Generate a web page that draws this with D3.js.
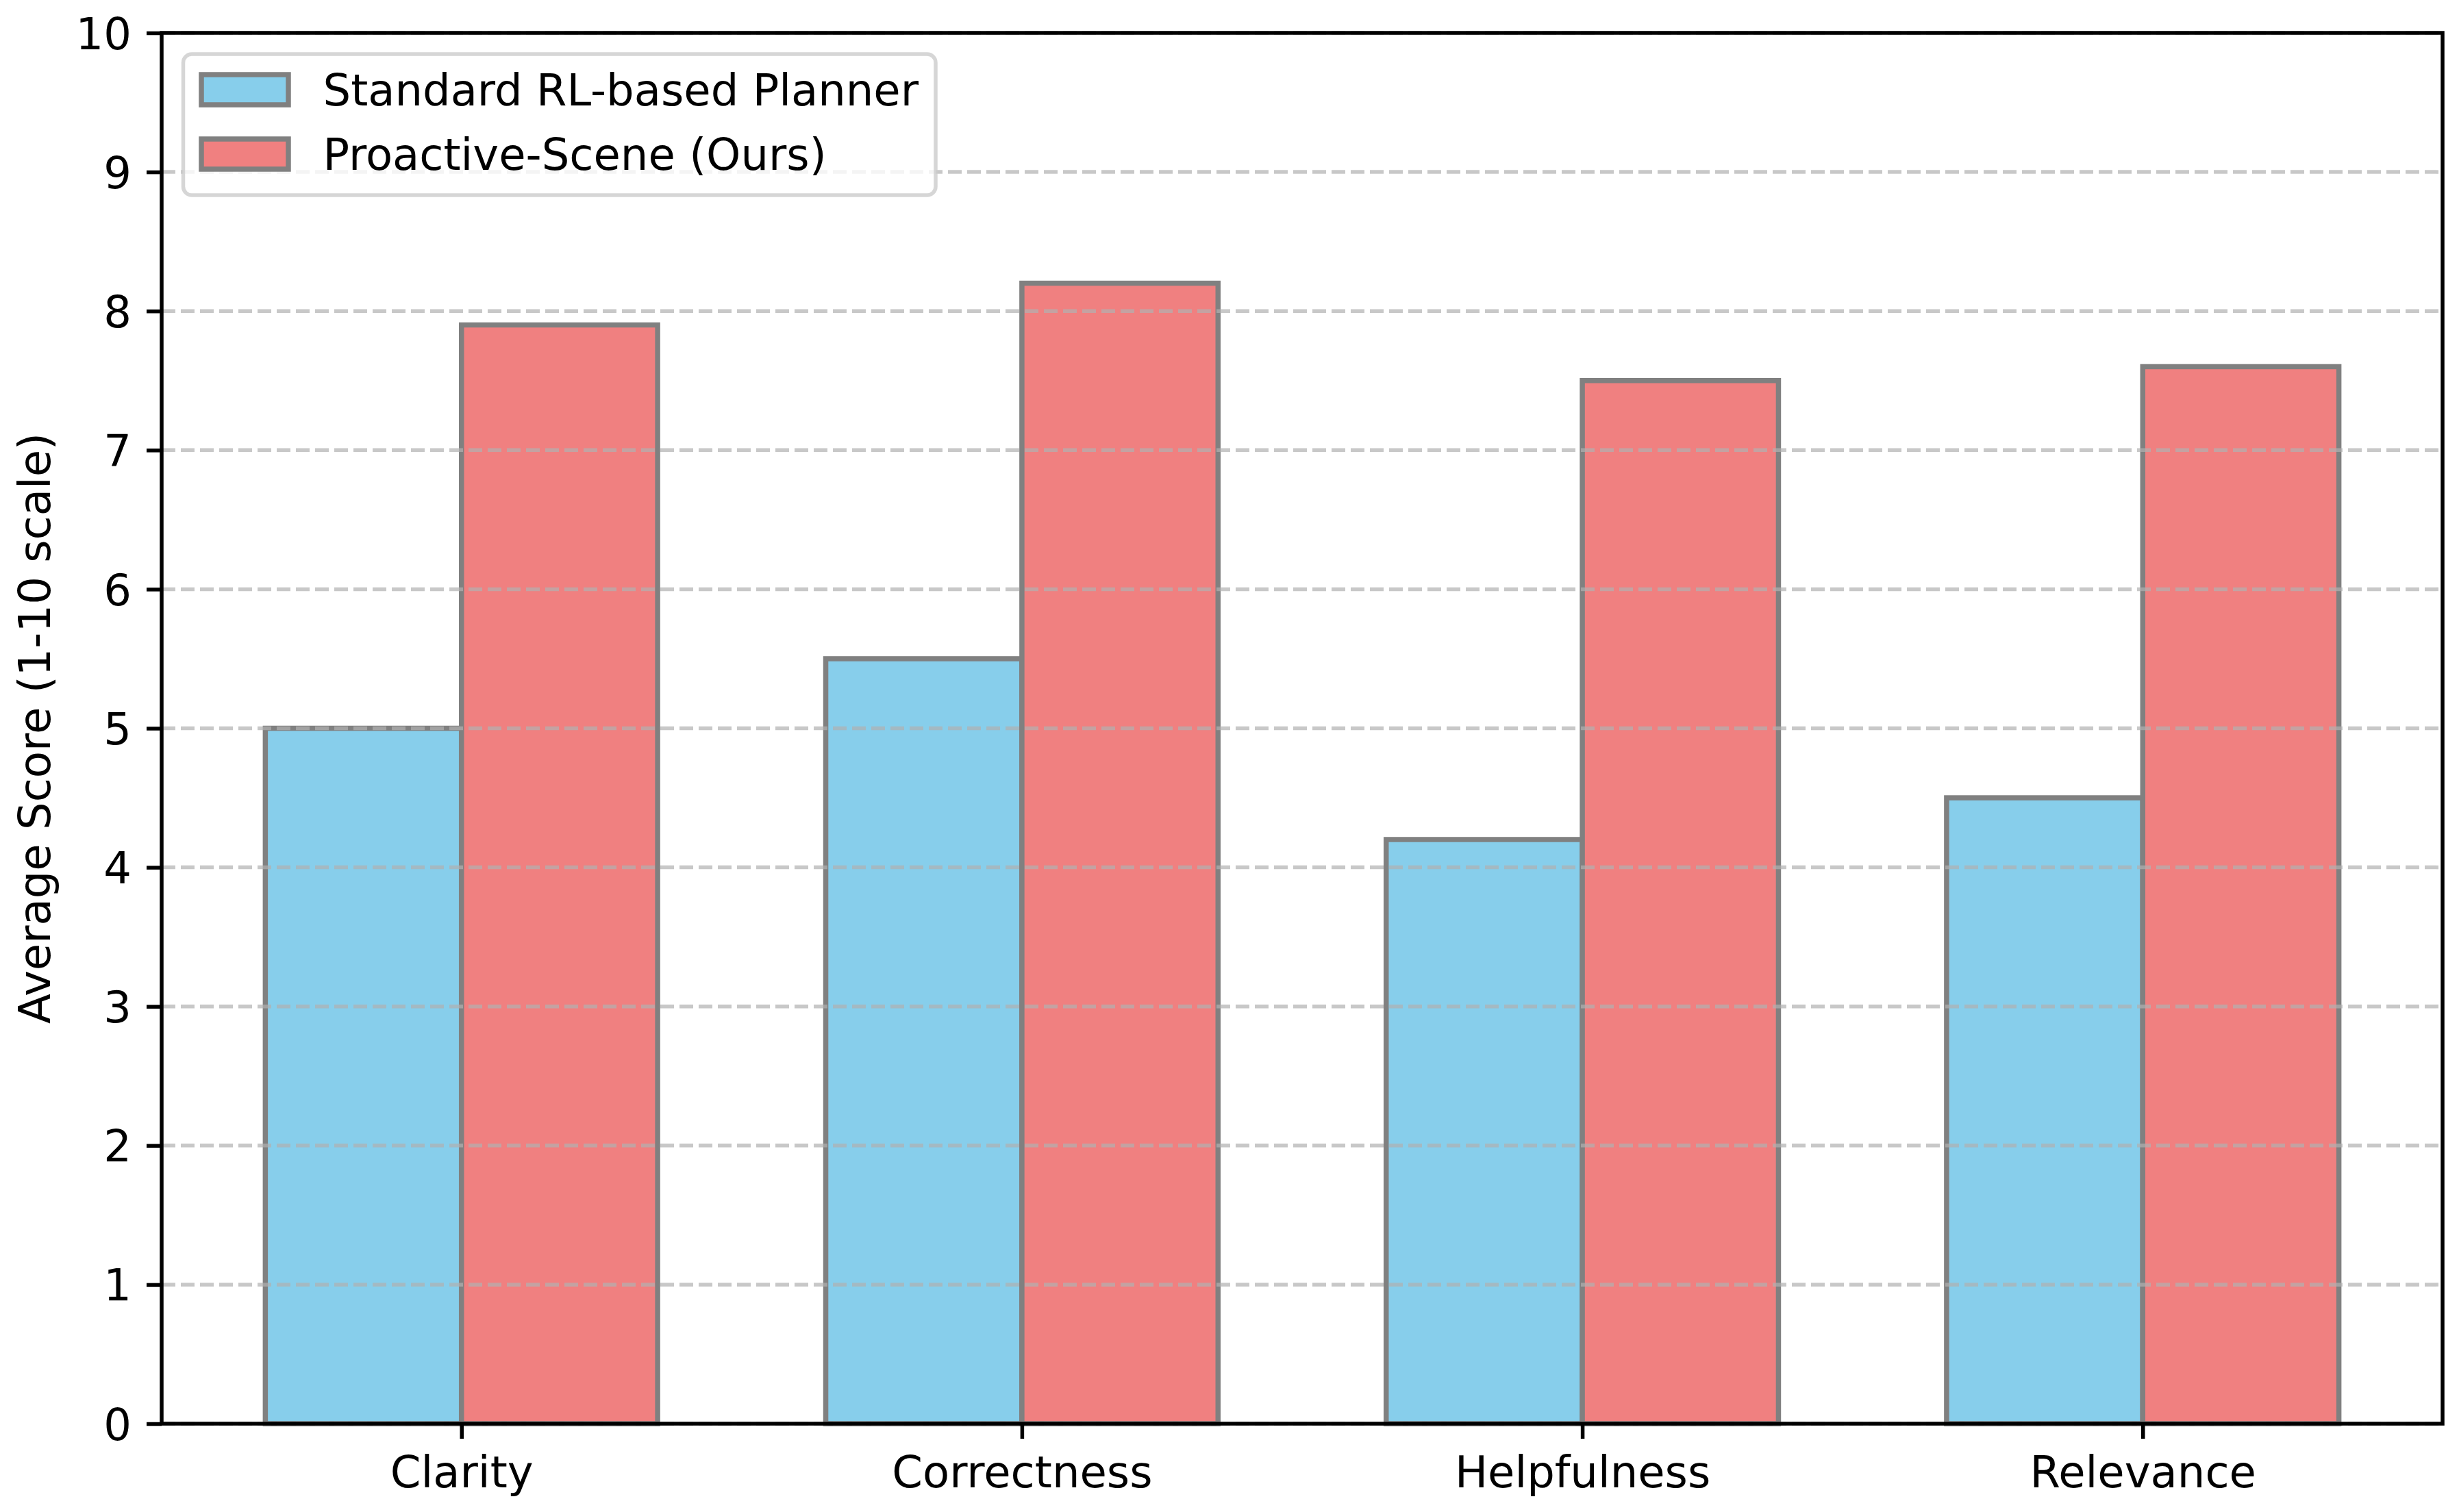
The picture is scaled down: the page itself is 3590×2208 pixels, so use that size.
<!DOCTYPE html>
<html lang="en">

<head>
  <meta charset="UTF-8">
  <title>Average Score by Criterion</title>
  <style>
    body {
      margin: 0;
      background: #fff;
    }

    svg {
      display: block;
      font-family: "DejaVu Sans", sans-serif;
    }

    .grid line {
      stroke: #b0b0b0;
      stroke-opacity: 0.7;
      stroke-width: 5.5;
      stroke-dasharray: 20 8;
    }

    .bar {
      stroke: #808080;
      stroke-width: 7.5;
    }

    .axis text {
      font-family: "DejaVu Sans", sans-serif;
      font-size: 64px;
      fill: #000;
    }

    .axis line {
      stroke: #000;
      stroke-width: 5.5;
    }
  </style>
</head>

<body>
  <svg></svg>
</body>
<script src="https://d3js.org/d3.v7.min.js"></script>
<script>

  let categories = ['Clarity', 'Correctness', 'Helpfulness', 'Relevance'];
  let seriesNames = ['Standard RL-based Planner', 'Proactive-Scene (Ours)'];
  let seriesColors = ['#87CEEB', '#F08080'];
  let standardScores = [5.0, 5.5, 4.2, 4.5];
  let proactiveScores = [7.9, 8.2, 7.5, 7.6];
  let yTicks = [0, 1, 2, 3, 4, 5, 6, 7, 8, 9, 10];

  let width = 3590,
    height = 2208;

  let margin = { left: 236, right: 24, top: 48, bottom: 129 };
  let barWidth = 0.35;

  let svg = d3.select('svg')
    .attr('width', width)
    .attr('height', height);

  // matplotlib-style x limits: bar extent plus 5% margin
  let lo = -barWidth, hi = categories.length - 1 + barWidth;
  let pad = (hi - lo) * 0.05;

  let x = d3.scaleLinear()
    .domain([lo - pad, hi + pad])
    .range([margin.left, width - margin.right]);

  let y = d3.scaleLinear()
    .domain([0, 10])
    .range([height - margin.bottom, margin.top]);

  let series = [
    { name: seriesNames[0], color: seriesColors[0], values: standardScores, offset: -barWidth },
    { name: seriesNames[1], color: seriesColors[1], values: proactiveScores, offset: 0 }
  ];

  // bars
  series.forEach(s => {
    svg.append('g')
      .selectAll('rect')
      .data(s.values)
      .enter()
      .append('rect')
      .attr('class', 'bar')
      .attr('x', (d, i) => x(i + s.offset))
      .attr('width', (d, i) => x(i + s.offset + barWidth) - x(i + s.offset))
      .attr('y', d => y(d))
      .attr('height', d => y(0) - y(d))
      .attr('fill', s.color);
  });

  // dashed horizontal grid, drawn over the bars like matplotlib
  svg.append('g')
    .attr('class', 'grid')
    .selectAll('line')
    .data(yTicks)
    .enter()
    .append('line')
    .attr('x1', x.range()[0])
    .attr('x2', x.range()[1])
    .attr('y1', d => y(d))
    .attr('y2', d => y(d));

  // legend
  let lg = svg.append('g')
    .attr('transform', 'translate(267.5,79)');

  lg.append('rect')
    .attr('width', 1098.5)
    .attr('height', 206)
    .attr('rx', 12.5)
    .attr('fill', '#fff')
    .attr('fill-opacity', 0.8)
    .attr('stroke', '#cccccc')
    .attr('stroke-opacity', 0.8)
    .attr('stroke-width', 5.5);

  series.forEach((s, i) => {
    let cy = 52 + i * 94;

    lg.append('rect')
      .attr('class', 'bar')
      .attr('x', 26.5)
      .attr('y', cy - 22)
      .attr('width', 127)
      .attr('height', 44)
      .attr('fill', s.color);

    lg.append('text')
      .attr('x', 204)
      .attr('y', cy)
      .attr('dy', '0.36em')
      .attr('font-size', 64)
      .text(s.name);
  });

  // axes
  let yAxis = svg.append('g')
    .attr('class', 'axis')
    .attr('transform', `translate(${margin.left},0)`)
    .call(d3.axisLeft(y).tickValues(yTicks).tickSize(22).tickPadding(22));

  yAxis.select('.domain').remove();
  yAxis.attr('font-family', null);
  yAxis.selectAll('text').attr('dy', '0.36em');

  let xAxis = svg.append('g')
    .attr('class', 'axis')
    .attr('transform', `translate(0,${height - margin.bottom})`)
    .call(d3.axisBottom(x)
      .tickValues(d3.range(categories.length))
      .tickFormat(i => categories[i])
      .tickSize(22)
      .tickPadding(22));

  xAxis.select('.domain').remove();
  xAxis.attr('font-family', null);
  xAxis.selectAll('text').attr('dy', '0.76em');

  // spines
  svg.append('rect')
    .attr('x', x.range()[0])
    .attr('y', y.range()[1])
    .attr('width', x.range()[1] - x.range()[0])
    .attr('height', y.range()[0] - y.range()[1])
    .attr('fill', 'none')
    .attr('stroke', '#000')
    .attr('stroke-width', 5.5);

  svg.append('text')
    .attr('transform', `translate(73,${(y.range()[0] + y.range()[1]) / 2}) rotate(-90)`)
    .attr('text-anchor', 'middle')
    .attr('font-size', 64)
    .text('Average Score (1-10 scale)');

</script>

</html>
